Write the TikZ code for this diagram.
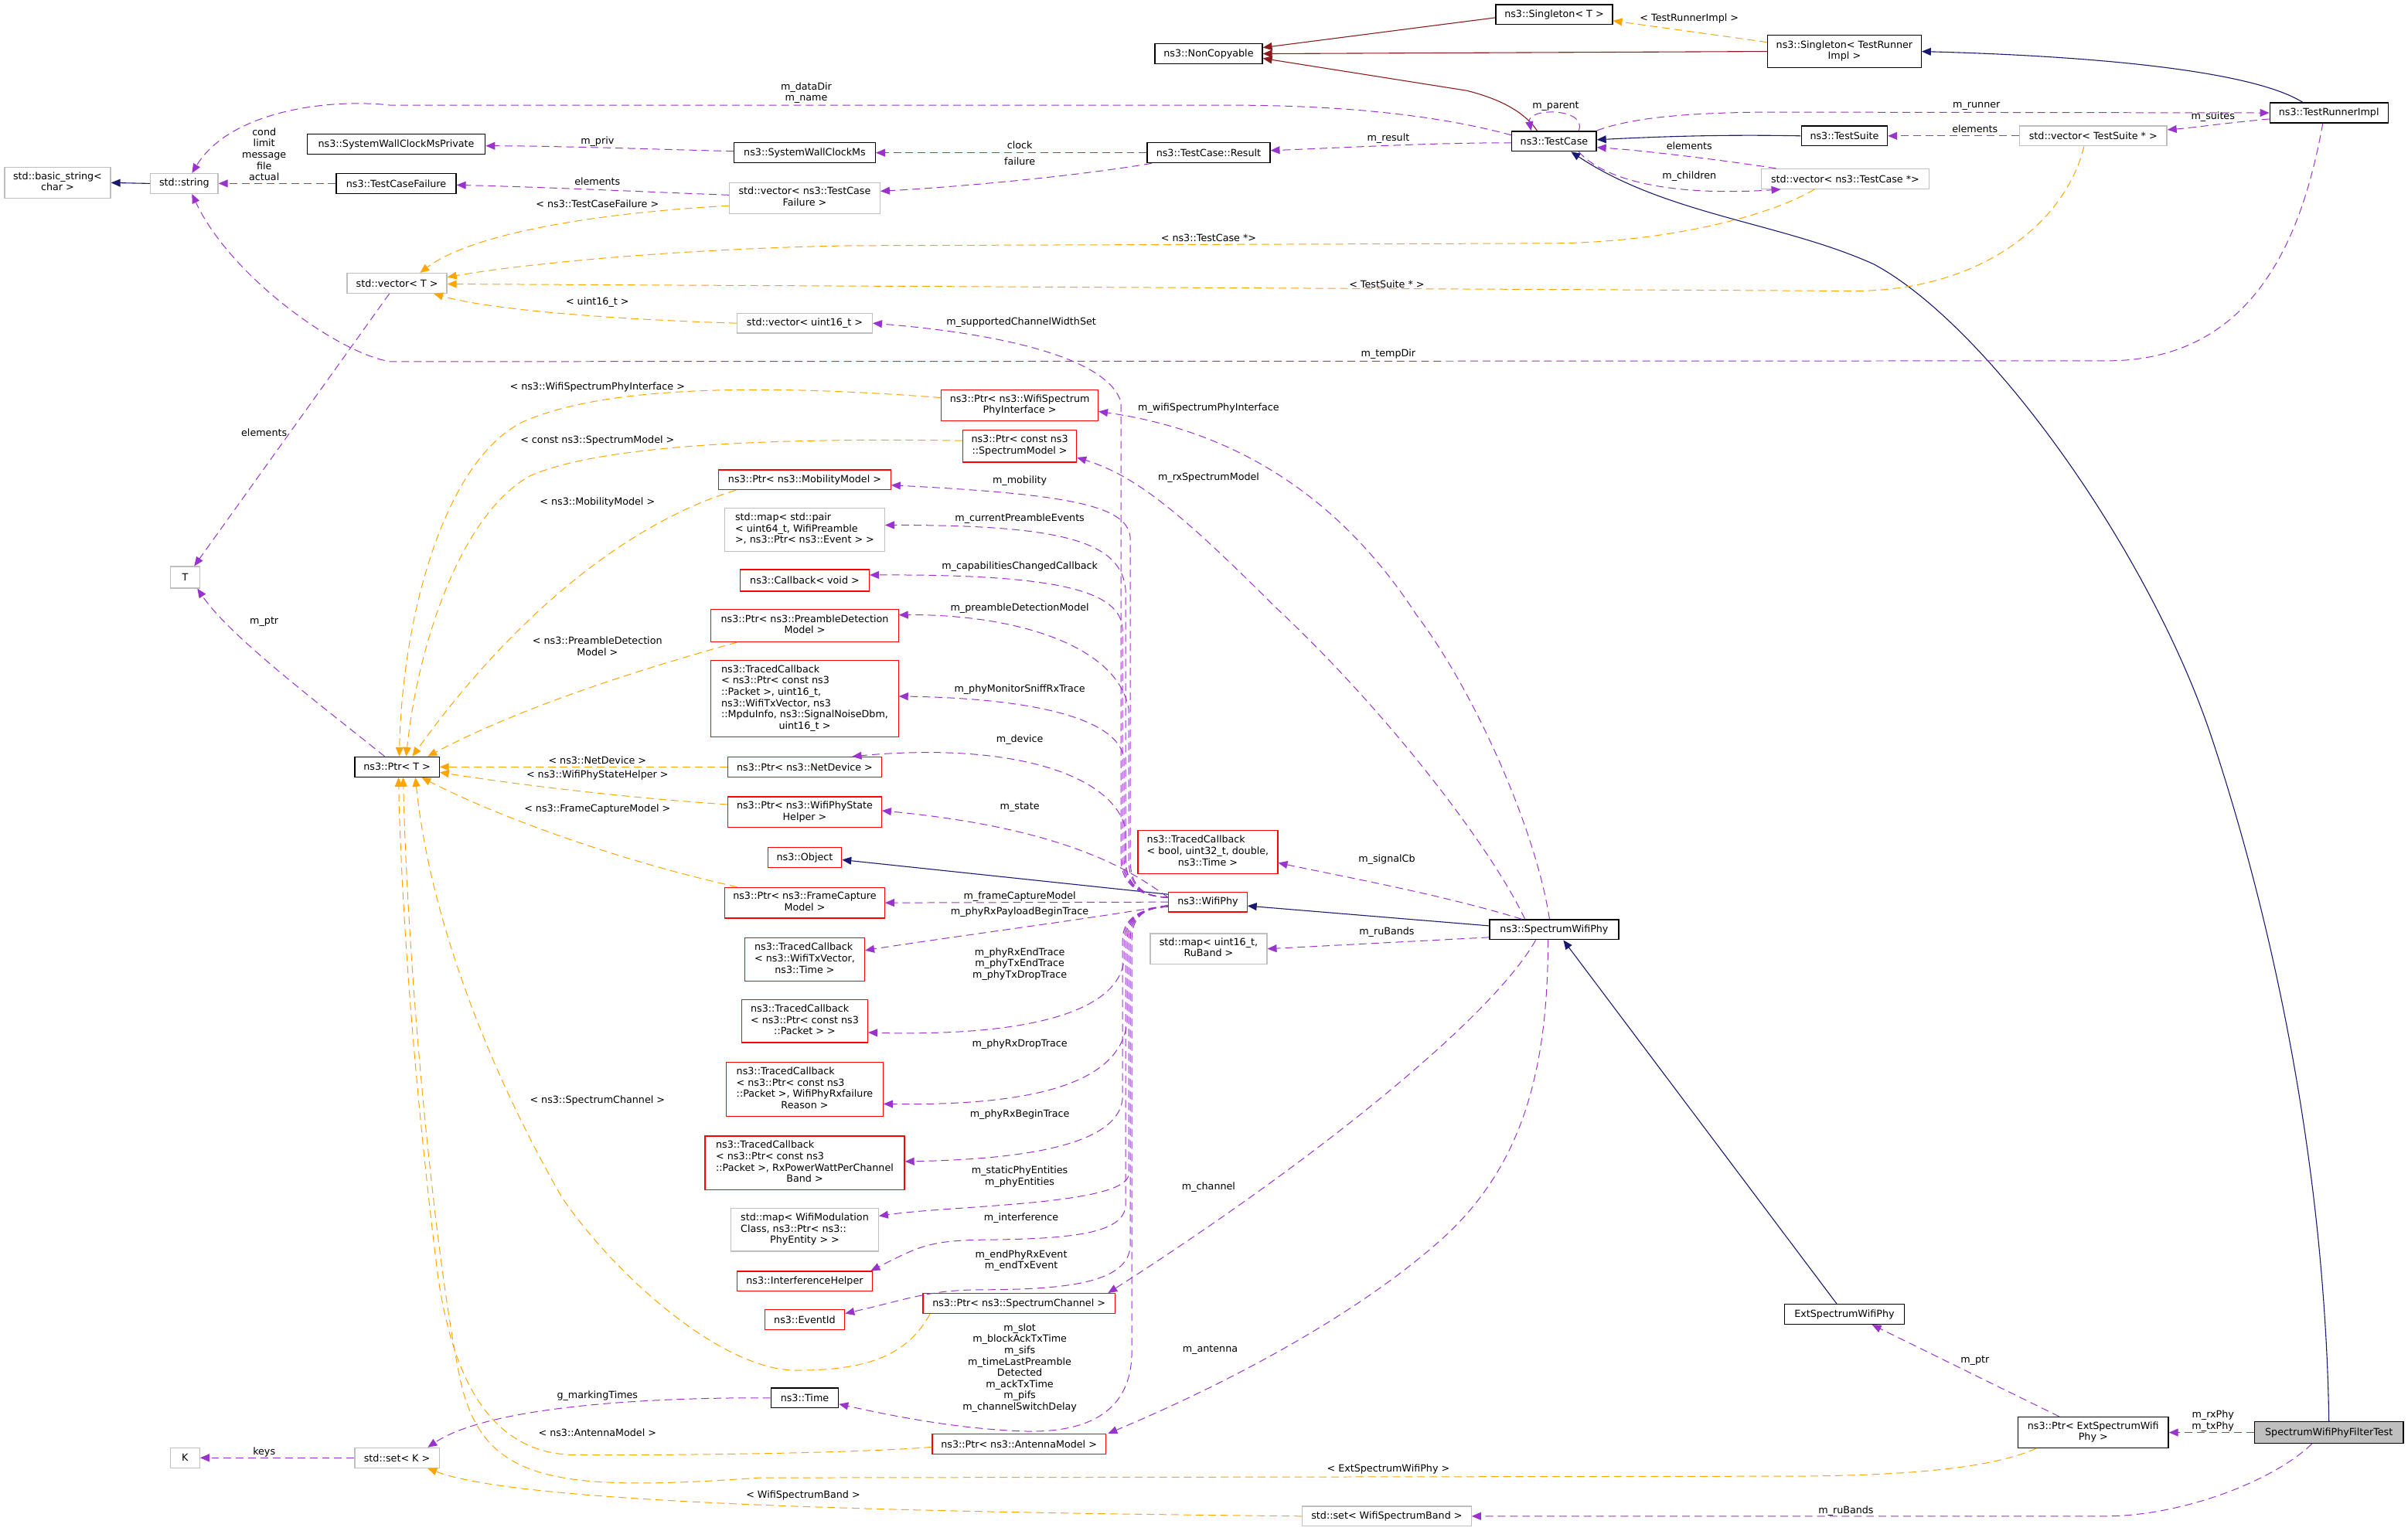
\documentclass[tikz,border=0pt]{standalone}
\usepackage{fontspec}
\setmainfont{DejaVu Sans}
\usetikzlibrary{arrows.meta}
\definecolor{upurple}{HTML}{9A32CD}
\definecolor{torange}{HTML}{FFA500}
\definecolor{inavy}{HTML}{191970}
\definecolor{pred}{HTML}{8B1A1A}
\definecolor{ugray}{HTML}{BFBFBF}
\definecolor{ured}{HTML}{FF0000}
\newcommand\ml[2]{\begin{tabular}{@{}l@{}}#1\\\multicolumn{1}{@{}c@{}}{#2}\end{tabular}}
\begin{document}
\begin{tikzpicture}[x=1pt,y=-1pt,font=\fontsize{6.4}{7.35}\selectfont,
 nd/.style={rectangle,inner sep=0pt,line width=0.65pt,align=center},
 blk/.style={nd,draw=black},
 gry/.style={nd,draw=ugray},
 rdb/.style={nd,draw=ured},
 lbl/.style={inner sep=0pt,align=center},
 tipx/.style={-{Triangle[length=6pt,width=5pt]}},
 usage/.style={draw=upurple,line width=0.5pt,dash pattern=on 5pt off 3pt,tipx},
 tmpl/.style={draw=torange,line width=0.5pt,dash pattern=on 5pt off 3pt,tipx},
 inhn/.style={draw=inavy,line width=0.55pt,tipx},
 inhr/.style={draw=pred,line width=0.55pt,tipx}]
\fill[white] (0,0) rectangle (1568,997);
\useasboundingbox (0,0) rectangle (1568,997);

% ---------------- nodes ----------------
\node[blk,minimum width=76pt,minimum height=13pt] (singT) at (1012,9.5) {ns3::Singleton< T >};
\node[blk,minimum width=70pt,minimum height=13pt] (noncopy) at (787,35) {ns3::NonCopyable};
\node[blk,minimum width=100pt,minimum height=21pt] (singTRI) at (1201,33.5) {\ml{ns3::Singleton< TestRunner}{Impl >}};
\node[blk,minimum width=77pt,minimum height=13pt] (tri) at (1516.5,73.5) {ns3::TestRunnerImpl};
\node[blk,minimum width=55pt,minimum height=13pt] (tc) at (1012,92) {ns3::TestCase};
\node[blk,minimum width=56pt,minimum height=13pt] (suite) at (1201,88.5) {ns3::TestSuite};
\node[gry,minimum width=96pt,minimum height=13pt] (vecSuite) at (1363,88.5) {std::vector< TestSuite * >};
\node[gry,minimum width=109pt,minimum height=13pt] (vecTC) at (1201.5,116.5) {std::vector< ns3::TestCase *>};
\node[blk,minimum width=80pt,minimum height=13pt] (result) at (787,99.5) {ns3::TestCase::Result};
\node[blk,minimum width=92pt,minimum height=13pt] (swc) at (524,99.5) {ns3::SystemWallClockMs};
\node[blk,minimum width=116pt,minimum height=13pt] (swcp) at (258,94) {ns3::SystemWallClockMsPrivate};
\node[blk,minimum width=78pt,minimum height=13pt] (tcf) at (258,119.5) {ns3::TestCaseFailure};
\node[gry,minimum width=98pt,minimum height=20pt] (vecTCF) at (524,129) {\ml{std::vector< ns3::TestCase}{Failure >}};
\node[gry,minimum width=44pt,minimum height=13pt] (str) at (120,119.5) {std::string};
\node[gry,minimum width=69pt,minimum height=20pt] (bstr) at (37.5,119) {\ml{std::basic\_string<}{char >}};
\node[gry,minimum width=65pt,minimum height=13pt] (vecT) at (258.5,184.5) {std::vector< T >};
\node[gry,minimum width=88pt,minimum height=13pt] (vecU16) at (524,210.5) {std::vector< uint16\_t >};
\node[gry,minimum width=19pt,minimum height=14pt] (T) at (120.5,376) {T};
\node[blk,minimum width=55pt,minimum height=13pt] (ptrT) at (258.5,499.5) {ns3::Ptr< T >};
\node[rdb,minimum width=102pt,minimum height=20pt] (pWSPI) at (664,264) {\ml{ns3::Ptr< ns3::WifiSpectrum}{PhyInterface >}};
\node[rdb,minimum width=74pt,minimum height=21pt] (pSM) at (664,290.5) {\ml{ns3::Ptr< const ns3}{::SpectrumModel >}};
\node[rdb,minimum width=112pt,minimum height=13pt] (pMob) at (524,312.5) {ns3::Ptr< ns3::MobilityModel >};
\node[gry,minimum width=104pt,minimum height=28pt] (mapPair) at (524,345) {\ml{std::map< std::pair\\< uint64\_t, WifiPreamble}{ >, ns3::Ptr< ns3::Event > >}};
\node[rdb,minimum width=84pt,minimum height=14pt] (cbVoid) at (524,378) {ns3::Callback< void >};
\node[rdb,minimum width=122pt,minimum height=21pt] (pPD) at (524,407.5) {\ml{ns3::Ptr< ns3::PreambleDetection}{Model >}};
\node[rdb,minimum width=122pt,minimum height=50pt] (tc6) at (524,455) {\ml{ns3::TracedCallback\\< ns3::Ptr< const ns3\\::Packet >, uint16\_t,\\ ns3::WifiTxVector, ns3\\::MpduInfo, ns3::SignalNoiseDbm,}{uint16\_t >}};
\node[rdb,minimum width=100pt,minimum height=13pt] (pND) at (524,499.5) {ns3::Ptr< ns3::NetDevice >};
\node[rdb,minimum width=100pt,minimum height=20pt] (pWPSH) at (524,529) {\ml{ns3::Ptr< ns3::WifiPhyState}{Helper >}};
\node[rdb,minimum width=48pt,minimum height=13pt] (obj) at (524,558.5) {ns3::Object};
\node[rdb,minimum width=104pt,minimum height=20pt] (pFC) at (524,588) {\ml{ns3::Ptr< ns3::FrameCapture}{Model >}};
\node[rdb,minimum width=78pt,minimum height=28pt] (tcTx) at (524,625) {\ml{ns3::TracedCallback\\< ns3::WifiTxVector,}{ns3::Time >}};
\node[rdb,minimum width=82pt,minimum height=28pt] (tcPk) at (524,665) {\ml{ns3::TracedCallback\\< ns3::Ptr< const ns3}{::Packet > >}};
\node[rdb,minimum width=102pt,minimum height=35pt] (tcRF) at (524,709.5) {\ml{ns3::TracedCallback\\< ns3::Ptr< const ns3\\::Packet >, WifiPhyRxfailure}{Reason >}};
\node[rdb,minimum width=130pt,minimum height=35pt] (tcRP) at (524,757.5) {\ml{ns3::TracedCallback\\< ns3::Ptr< const ns3\\::Packet >, RxPowerWattPerChannel}{Band >}};
\node[gry,minimum width=96pt,minimum height=28pt] (mapMod) at (524,801) {\ml{std::map< WifiModulation\\Class, ns3::Ptr< ns3::}{PhyEntity > >}};
\node[rdb,minimum width=88pt,minimum height=13pt] (intf) at (524,834.5) {ns3::InterferenceHelper};
\node[rdb,minimum width=52pt,minimum height=13pt] (evId) at (524,859.5) {ns3::EventId};
\node[rdb,minimum width=125pt,minimum height=13pt] (pSC) at (663.5,849) {ns3::Ptr< ns3::SpectrumChannel >};
\node[blk,minimum width=44pt,minimum height=13pt] (time) at (524,910.5) {ns3::Time};
\node[rdb,minimum width=113pt,minimum height=13pt] (pAM) at (663.5,940.5) {ns3::Ptr< ns3::AntennaModel >};
\node[gry,minimum width=19pt,minimum height=13pt] (K) at (120.5,949.5) {K};
\node[gry,minimum width=55pt,minimum height=13pt] (setK) at (258.5,949.5) {std::set< K >};
\node[gry,minimum width=110pt,minimum height=13pt] (setWSB) at (903,987.5) {std::set< WifiSpectrumBand >};
\node[rdb,minimum width=91pt,minimum height=28pt] (tcBool) at (786.5,555) {\ml{ns3::TracedCallback\\< bool, uint32\_t, double,}{ns3::Time >}};
\node[rdb,minimum width=51pt,minimum height=13pt] (wifiphy) at (786.5,587.5) {ns3::WifiPhy};
\node[gry,minimum width=76pt,minimum height=20pt] (mapRu) at (787,618) {\ml{std::map< uint16\_t,}{RuBand >}};
\node[blk,minimum width=84pt,minimum height=13pt] (swp) at (1012,605.5) {ns3::SpectrumWifiPhy};
\node[blk,minimum width=78pt,minimum height=13pt] (ext) at (1201,856) {ExtSpectrumWifiPhy};
\node[blk,minimum width=98pt,minimum height=20pt] (pExt) at (1363,933) {\ml{ns3::Ptr< ExtSpectrumWifi}{Phy >}};
\node[nd,draw=black,fill=ugray,minimum width=97pt,minimum height=14pt] (ft) at (1516.5,933) {SpectrumWifiPhyFilterTest};

% ---------------- inheritance ----------------
\draw[inhr] ([yshift=-2pt]singT.west) -- ([yshift=4pt]noncopy.east);
\draw[inhr] (singTRI.west) -- (noncopy.east);
\draw[inhr] ([xshift=-11pt]tc.north) .. controls (992,72) and (975,64) .. (955,59) -- ([yshift=-3pt]noncopy.east);
\draw[inhn] ([xshift=-17pt]tri.north) .. controls (1470,48) and (1380,37) .. (singTRI.east);
\draw[inhn] (suite.west) .. controls (1120,87.5) and (1080,89) .. ([yshift=1pt]tc.east);
\draw[inhn] (ft.north) .. controls (1514,760) and (1480,600) .. (1440,480) .. controls (1400,360) and (1295,212) .. (1220,172) .. controls (1160,145) and (1085,140) .. ([xshift=11pt]tc.south);
\draw[inhn] ([yshift=5pt]wifiphy.west) -- ([yshift=-1.5pt]obj.east);
\draw[inhn] ([yshift=2.5pt]swp.west) -- ([yshift=-2.5pt]wifiphy.east);
\draw[inhn] ([xshift=-5pt]ext.north) -- ([xshift=6pt]swp.south);
\draw[inhn] (str.west) -- (bstr.east);

% ---------------- template instances ----------------
\draw[tmpl] ([yshift=6pt]singTRI.west) -- ([yshift=-4pt]singT.east);
\draw[tmpl] ([yshift=-5pt]vecTCF.west) .. controls (400,138) and (310,150) .. ([xshift=15pt]vecT.north);
\draw[tmpl] ([xshift=-20pt]vecTC.south) .. controls (1150,142) and (1080,158.5) .. (1007,158.5) -- (554,160) .. controls (440,162) and (340,172) .. ([yshift=4pt]vecT.east);
\draw[tmpl] ([xshift=-6pt]vecSuite.south) .. controls (1345,145) and (1290,189.5) .. (1207,189.5) -- ([yshift=-0.5pt]vecT.east);
\draw[tmpl] (vecU16.west) .. controls (400,208) and (320,202) .. ([xshift=24pt]vecT.south);
\draw[tmpl] ([yshift=5pt]pWSPI.west) .. controls (520,252) and (400,248) .. (340,275) .. controls (290,300) and (262,400) .. ([xshift=1.5pt]ptrT.north);
\draw[tmpl] ([yshift=3.5pt]pSM.west) .. controls (500,285) and (390,290) .. (345,310) .. controls (300,335) and (272,420) .. ([xshift=6pt]ptrT.north);
\draw[tmpl] ([xshift=-45pt]pMob.south) .. controls (410,340) and (335,400) .. ([xshift=10pt]ptrT.north);
\draw[tmpl] ([xshift=-44pt]pPD.south) .. controls (420,435) and (340,460) .. ([xshift=20pt]ptrT.north);
\draw[tmpl] (pND.west) -- (ptrT.east);
\draw[tmpl] ([yshift=5pt]pWPSH.west) .. controls (400,519) and (330,510) .. ([yshift=-3.5pt]ptrT.east);
\draw[tmpl] ([xshift=-44pt]pFC.north) .. controls (400,560) and (320,530) .. ([xshift=16pt]ptrT.south);
\draw[tmpl] ([xshift=-58pt]pSC.south) .. controls (590,885) and (560,892.5) .. (519,892.5) .. controls (470,893) and (400,830) .. (366,780) .. controls (320,700) and (280,600) .. ([xshift=12pt]ptrT.south);
\draw[tmpl] ([yshift=-2pt]pAM.west) .. controls (550,947) and (420,948) .. (371,947.5) .. controls (320,945) and (295,900) .. (285,830) .. controls (275,750) and (262,620) .. ([xshift=1pt]ptrT.south);
\draw[tmpl] ([xshift=-37pt]pExt.south) .. controls (1300,955) and (1250,961.5) .. (1159,961.5) -- (494,962.5) .. controls (360,972) and (315,965) .. (300,900) .. controls (285,830) and (266,650) .. ([xshift=4pt]ptrT.south);
\draw[tmpl] (setWSB.west) .. controls (600,985) and (340,980) .. ([xshift=20pt]setK.south);

% ---------------- usage: test framework ----------------
\draw[usage] ([yshift=4pt]tc.west) .. controls (940,76) and (880,68.5) .. (800,68.5) -- (254,68.5) .. controls (215,64) and (150,72) .. ([xshift=5pt]str.north);
\draw[usage] ([xshift=16pt]tc.north) .. controls (1034,70) and (994,70) .. ([xshift=-15pt]tc.north);
\draw[usage] ([yshift=-1pt]tc.west) .. controls (930,93) and (880,96) .. ([yshift=1.5pt]result.east);
\draw[usage] (result.west) -- (swc.east);
\draw[usage] ([xshift=-37pt]result.south) .. controls (700,115) and (620,122) .. ([yshift=4.5pt]vecTCF.east);
\draw[usage] ([yshift=1pt]swc.west) .. controls (420,97) and (360,95) .. ([yshift=-1pt]swcp.east);
\draw[usage] ([yshift=2pt]vecTCF.west) .. controls (420,125) and (360,122) .. ([yshift=-1pt]tcf.east);
\draw[usage] (tcf.west) -- (str.east);
\draw[usage] ([yshift=7pt]tc.east) .. controls (1062,77) and (1095,73.5) .. (1150,73) -- (tri.west);
\draw[usage] ([yshift=-4pt]tri.west) .. controls (1450,80) and (1430,83) .. ([yshift=4pt]vecSuite.east);
\draw[usage] (vecSuite.west) -- (suite.east);
\draw[usage] ([xshift=-45pt]vecTC.north) .. controls (1120,104) and (1070,98) .. ([yshift=-4pt]tc.east);
\draw[usage] ([xshift=16pt]tc.south) .. controls (1045,118) and (1090,128) .. ([xshift=-42pt]vecTC.south);
\draw[usage] ([xshift=-4pt]tri.south) .. controls (1500,150) and (1470,235) .. (1372,235) -- (254,235.5) .. controls (220,230) and (150,180) .. ([xshift=5pt]str.south);
\draw[usage] ([xshift=-5pt]vecT.south) -- ([xshift=6pt]T.north);
\draw[usage] ([xshift=-8pt]ptrT.north) .. controls (210,460) and (150,415) .. ([xshift=8pt]T.south);
\draw[usage] (setK.west) -- (K.east);
\draw[usage] (time.west) .. controls (430,910) and (320,915) .. ([xshift=20pt]setK.north);

% ---------------- usage: WifiPhy members ----------------
\draw[usage] ([yshift=3pt]wifiphy.west) .. controls (745,584) and (730,578) .. (730,560) -- (730,262) .. controls (722,235) and (660,218) .. (vecU16.east);
\draw[usage] ([yshift=3pt]wifiphy.west) .. controls (745,584) and (736,578) .. (736,560) -- (736,350) .. controls (734,330) and (700,322) .. ([yshift=-3.5pt]pMob.east);
\draw[usage] ([yshift=3pt]wifiphy.west) .. controls (745,584) and (733,578) .. (733,560) -- (733,385) .. controls (731,352) and (690,342) .. ([yshift=3pt]mapPair.east);
\draw[usage] ([yshift=3pt]wifiphy.west) .. controls (745,584) and (731,578) .. (731,560) -- (731,410) .. controls (730,385) and (690,374) .. ([yshift=3.5pt]cbVoid.east);
\draw[usage] ([yshift=3pt]wifiphy.west) .. controls (745,584) and (735,578) .. (735,560) -- (735,462) .. controls (728,420) and (660,400) .. ([yshift=7pt]pPD.east);
\draw[usage] ([yshift=3pt]wifiphy.west) .. controls (745,584) and (732,578) .. (732,560) -- (732,495) .. controls (730,470) and (680,455) .. ([yshift=1.5pt]tc6.east);
\draw[usage] ([yshift=3pt]wifiphy.west) .. controls (745,584) and (733,578) .. (733,560) -- (733,540) .. controls (725,505) and (660,483) .. ([xshift=31pt]pND.north);
\draw[usage] ([yshift=3pt]wifiphy.west) .. controls (740,570) and (700,540) .. ([yshift=1pt]pWPSH.east);
\draw[usage] (wifiphy.west) -- (pFC.east);
\draw[usage] ([yshift=-2pt]wifiphy.west) .. controls (720,597) and (620,610) .. ([yshift=6pt]tcTx.east);
\draw[usage] ([yshift=-3pt]wifiphy.west) .. controls (745,591) and (732,597) .. (732,612) -- (732,625) .. controls (728,662) and (660,675) .. ([yshift=-7.5pt]tcPk.east);
\draw[usage] ([yshift=-3pt]wifiphy.west) .. controls (745,591) and (734,597) .. (734,612) -- (734,665) .. controls (730,710) and (660,720) .. ([yshift=-9.5pt]tcRF.east);
\draw[usage] ([yshift=-3pt]wifiphy.west) .. controls (745,591) and (731,597) .. (731,612) -- (731,715) .. controls (729,745) and (670,755) .. ([yshift=1pt]tcRP.east);
\draw[usage] ([yshift=-3pt]wifiphy.west) .. controls (745,591) and (735,597) .. (735,612) -- (735,765) .. controls (733,785) and (620,785) .. ([yshift=9pt]mapMod.east);
\draw[usage] ([yshift=-3pt]wifiphy.west) .. controls (745,591) and (733,597) .. (733,612) -- (733,785) .. controls (732,803) and (700,807) .. (640,807.5) .. controls (605,808) and (598,812) .. ([xshift=43pt]intf.north);
\draw[usage] ([yshift=-3pt]wifiphy.west) .. controls (745,591) and (736,597) .. (736,612) -- (736,812) .. controls (734,834) and (700,840) .. (640,840) .. controls (605,840) and (592,846) .. ([yshift=4pt]evId.east);
\draw[usage] ([yshift=-3pt]wifiphy.west) .. controls (745,591) and (737,597) .. (737,612) -- (737,880) .. controls (737,925) and (700,934) .. (662,932) .. controls (620,930) and (580,922) .. ([yshift=-4pt]time.east);

% ---------------- usage: SpectrumWifiPhy members ----------------
\draw[usage] ([xshift=-3pt]swp.north) .. controls (1000,540) and (960,450) .. (922,400) .. controls (870,320) and (800,280) .. ([yshift=-4pt]pWSPI.east);
\draw[usage] ([xshift=-19pt]swp.north) .. controls (970,550) and (900,460) .. (830,395) .. controls (770,335) and (740,310) .. ([yshift=-7.5pt]pSM.east);
\draw[usage] ([xshift=-21pt]swp.north) .. controls (940,583) and (880,572) .. ([yshift=-7pt]tcBool.east);
\draw[usage] ([yshift=-5pt]swp.west) -- (mapRu.east);
\draw[usage] ([xshift=-12pt]swp.south) .. controls (970,665) and (850,760) .. ([xshift=58pt]pSC.north);
\draw[usage] ([xshift=-4pt]swp.south) .. controls (1008,700) and (990,760) .. (940,806) .. controls (880,860) and (790,905) .. ([xshift=58pt]pAM.north);

% ---------------- usage: test class ----------------
\draw[usage] (ft.west) -- (pExt.east);
\draw[usage] ([xshift=-11pt]ft.south) .. controls (1480,965) and (1420,987.5) .. (1371,987.5) -- (setWSB.east);
\draw[usage] ([xshift=-22pt]pExt.north) -- ([xshift=18pt]ext.south);

% ---------------- labels ----------------
\node[lbl] (l01) at (1100,12) {< TestRunnerImpl >};
\node[lbl] (l02) at (525,60.5) {m\_dataDir\\m\_name};
\node[lbl] (l03) at (1013,69) {m\_parent};
\node[lbl] (l04) at (904,90) {m\_result};
\node[lbl] (l05) at (664,94.5) {clock};
\node[lbl] (l06) at (664,105) {failure};
\node[lbl] (l07) at (389,92) {m\_priv};
\node[lbl] (l08) at (389,118) {elements};
\node[lbl] (l09) at (172,100.5) {cond\\limit\\message\\file\\actual};
\node[lbl] (l10) at (1287,69) {m\_runner};
\node[lbl] (l11) at (1441,76) {m\_suites};
\node[lbl] (l12) at (1286,84) {elements};
\node[lbl] (l13) at (1100,95) {elements};
\node[lbl] (l14) at (1100,115) {m\_children};
\node[lbl] (l15) at (904,230.5) {m\_tempDir};
\node[lbl] (l16) at (172,282) {elements};
\node[lbl] (l17) at (172,405) {m\_ptr};
\node[lbl] (l18) at (172,946) {keys};
\node[lbl] (l19) at (389,909) {g\_markingTimes};
\node[lbl] (l20) at (665,210) {m\_supportedChannelWidthSet};
\node[lbl] (l21) at (787,266) {m\_wifiSpectrumPhyInterface};
\node[lbl] (l22) at (787,311) {m\_rxSpectrumModel};
\node[lbl] (l23) at (664,313) {m\_mobility};
\node[lbl] (l24) at (664,338) {m\_currentPreambleEvents};
\node[lbl] (l25) at (664,369) {m\_capabilitiesChangedCallback};
\node[lbl] (l26) at (664,396) {m\_preambleDetectionModel};
\node[lbl] (l27) at (664,449) {m\_phyMonitorSniffRxTrace};
\node[lbl] (l28) at (664,482) {m\_device};
\node[lbl] (l29) at (664,526) {m\_state};
\node[lbl] (l30) at (903,560) {m\_signalCb};
\node[lbl] (l31) at (664,584) {m\_frameCaptureModel};
\node[lbl] (l32) at (664,594) {m\_phyRxPayloadBeginTrace};
\node[lbl] (l33) at (903,607) {m\_ruBands};
\node[lbl] (l34) at (664,628) {m\_phyRxEndTrace\\m\_phyTxEndTrace\\m\_phyTxDropTrace};
\node[lbl] (l35) at (664,680) {m\_phyRxDropTrace};
\node[lbl] (l36) at (664,726) {m\_phyRxBeginTrace};
\node[lbl] (l37) at (664,766.5) {m\_staticPhyEntities\\m\_phyEntities};
\node[lbl] (l38) at (787,773) {m\_channel};
\node[lbl] (l39) at (665,793.5) {m\_interference};
\node[lbl] (l40) at (665,821) {m\_endPhyRxEvent\\m\_endTxEvent};
\node[lbl] (l41) at (664,891) {m\_slot\\m\_blockAckTxTime\\m\_sifs\\m\_timeLastPreamble\\Detected\\m\_ackTxTime\\m\_pifs\\m\_channelSwitchDelay};
\node[lbl] (l42) at (788,879) {m\_antenna};
\node[lbl] (l43) at (1286,886) {m\_ptr};
\node[lbl] (l44) at (1441,925.5) {m\_rxPhy\\m\_txPhy};
\node[lbl] (l45) at (1202,984) {m\_ruBands};
\node[lbl] (l46) at (389,133) {< ns3::TestCaseFailure >};
\node[lbl] (l47) at (787,155) {< ns3::TestCase *>};
\node[lbl] (l48) at (903,185) {< TestSuite * >};
\node[lbl] (l49) at (389,197) {< uint16\_t >};
\node[lbl] (l50) at (389,252) {< ns3::WifiSpectrumPhyInterface >};
\node[lbl] (l51) at (389,287) {< const ns3::SpectrumModel >};
\node[lbl] (l52) at (389,327) {< ns3::MobilityModel >};
\node[lbl] (l53) at (389,421) {< ns3::PreambleDetection\\Model >};
\node[lbl] (l54) at (389,495) {< ns3::NetDevice >};
\node[lbl] (l55) at (389,505) {< ns3::WifiPhyStateHelper >};
\node[lbl] (l56) at (389,527) {< ns3::FrameCaptureModel >};
\node[lbl] (l57) at (389,717) {< ns3::SpectrumChannel >};
\node[lbl] (l58) at (389,933) {< ns3::AntennaModel >};
\node[lbl] (l59) at (904,957) {< ExtSpectrumWifiPhy >};
\node[lbl] (l60) at (523,974) {< WifiSpectrumBand >};
\end{tikzpicture}
\end{document}
